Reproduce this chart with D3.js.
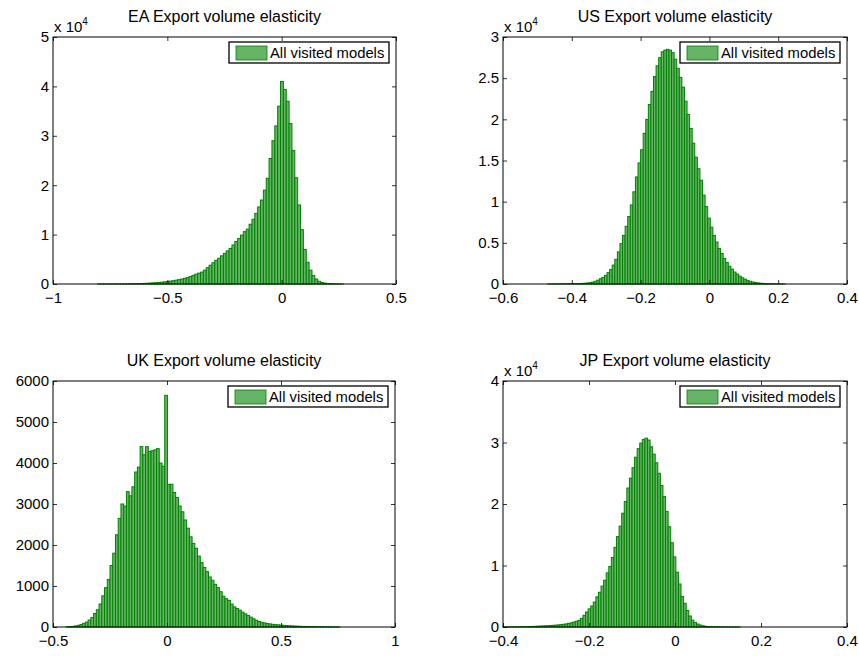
<!DOCTYPE html>
<html>
<head>
<meta charset="utf-8">
<script src="https://cdn.jsdelivr.net/npm/d3@7"></script>
<style>
  body { margin: 0; background: #fff; }
  svg { display: block; font-family: "Liberation Sans", Arial, Helvetica, sans-serif; }
</style>
</head>
<body>
<svg id="chart" width="859" height="656"></svg>
<script>
// histogram counts (one value per bin)
const eaBinStart = -0.805
const eaBinWidth = 0.0125
const eaCounts = [2, 3, 4, 5, 7, 9, 12, 15, 20, 25, 32, 40, 50, 65, 80, 100, 120, 150, 180, 220,
  260, 310, 370, 430, 500, 580, 670, 770, 880, 1000, 1150, 1300, 1500, 1750, 2000, 2200, 2400, 2800, 3300, 3800,
  4300, 4800, 5200, 5700, 6200, 6700, 7200, 7900, 8600, 9200, 9900, 10600, 11100, 12100, 13100, 14300, 15600, 17000, 19000, 21400,
  25400, 29000, 32000, 36000, 41000, 39400, 37000, 32500, 27000, 21500, 16000, 11000, 7000, 4400, 2800, 1700, 1000, 550, 300, 180,
  100, 60, 35, 20, 10, 5]

const usBinStart = -0.47
const usBinWidth = 0.0075
const usCounts = [5, 5, 8, 10, 12, 15, 18, 22, 26, 30, 36, 44, 55, 70, 90, 120, 160, 230, 330, 460,
  640, 800, 1050, 1380, 1750, 2300, 3000, 3900, 4900, 5900, 7000, 8200, 9600, 11200, 13000, 14700, 16300, 18300, 20000, 21800,
  23400, 25200, 26500, 27500, 28200, 28400, 28500, 28400, 28100, 27300, 26200, 25100, 23900, 22200, 20600, 18900, 17100, 15400, 14000, 12600,
  10800, 9400, 8000, 6900, 5900, 5100, 4300, 3700, 3100, 2600, 2150, 1800, 1450, 1200, 950, 750, 580, 440, 330, 250,
  180, 130, 95, 70, 50, 35, 25, 18, 12, 8, 5, 3]

const ukBinStart = -0.442
const ukBinWidth = 0.012
const ukCounts = [5, 10, 15, 25, 40, 60, 90, 120, 170, 230, 330, 420, 560, 760, 960, 1160, 1500, 1800, 2250, 2650,
  3000, 2950, 3300, 3200, 3420, 3780, 3900, 4400, 4200, 4400, 4280, 4300, 4320, 4350, 4000, 3920, 5650, 3480, 3480, 3280,
  3160, 2950, 2810, 2610, 2410, 2200, 2040, 1920, 1730, 1570, 1450, 1350, 1220, 1140, 1040, 960, 860, 750, 690, 650,
  560, 490, 450, 410, 360, 320, 280, 240, 200, 165, 135, 115, 100, 85, 75, 65, 58, 52, 46, 40,
  35, 30, 26, 22, 19, 16, 14, 12, 10, 9, 8, 7, 6, 5, 4, 4, 3, 3, 2, 2]

const jpBinStart = -0.4
const jpBinWidth = 0.006
const jpCounts = [10, 12, 15, 18, 22, 27, 33, 40, 50, 60, 75, 90, 110, 130, 150, 170, 190, 210, 240, 270,
  300, 340, 390, 440, 500, 580, 680, 800, 930, 1080, 1400, 1900, 2450, 2950, 3420, 4050, 4900, 5650, 6650, 7600,
  8800, 9850, 11300, 12950, 14700, 16400, 18500, 20400, 22600, 24200, 25900, 27600, 29000, 29900, 30500, 30700, 30400, 29300, 28100, 26700,
  25000, 23000, 21200, 18800, 16300, 13700, 11400, 8900, 7000, 4950, 3850, 2700, 1790, 1120, 740, 480, 320, 190, 120, 80,
  55, 40, 30, 22, 16, 12, 9, 7, 5, 4, 3, 2]

// axis ticks
const eaXTicks = [-1, -0.5, 0, 0.5]
const eaYTicks = [0, 10000, 20000, 30000, 40000, 50000]
const usXTicks = [-0.6, -0.4, -0.2, 0, 0.2, 0.4]
const usYTicks = [0, 5000, 10000, 15000, 20000, 25000, 30000]
const ukXTicks = [-0.5, 0, 0.5, 1]
const ukYTicks = [0, 1000, 2000, 3000, 4000, 5000, 6000]
const jpXTicks = [-0.4, -0.2, 0, 0.2, 0.4]
const jpYTicks = [0, 10000, 20000, 30000, 40000]

const titles = ['EA Export volume elasticity', 'US Export volume elasticity',
  'UK Export volume elasticity', 'JP Export volume elasticity']
const legendLabel = 'All visited models'

const panels = [
  {title: titles[0], start: eaBinStart, width: eaBinWidth, counts: eaCounts, xTicks: eaXTicks, yTicks: eaYTicks, exp: 4,
    left: 53, top: 37, w: 343, h: 247},
  {title: titles[1], start: usBinStart, width: usBinWidth, counts: usCounts, xTicks: usXTicks, yTicks: usYTicks, exp: 4,
    left: 503, top: 37, w: 344, h: 247},
  {title: titles[2], start: ukBinStart, width: ukBinWidth, counts: ukCounts, xTicks: ukXTicks, yTicks: ukYTicks, exp: 0,
    left: 53, top: 381, w: 342, h: 246},
  {title: titles[3], start: jpBinStart, width: jpBinWidth, counts: jpCounts, xTicks: jpXTicks, yTicks: jpYTicks, exp: 4,
    left: 503, top: 381, w: 344, h: 246}
]

const barFill = '#66b566'
const barEdge = '#008000'
const tickFont = 15
const titleFont = 16
const legendFont = 14.8

const svg = d3.select('#chart')

// matlab style minus sign
const fmtNum = v => {
  const s = String(Math.round(v * 1e6) / 1e6)
  return s.replace('-', '\u2212')
}

function drawPanel(p) {
  const g = svg.append('g').attr('transform', `translate(${p.left}, ${p.top})`)

  const x = d3.scaleLinear()
    .domain(d3.extent(p.xTicks))
    .range([0, p.w])
  const y = d3.scaleLinear()
    .domain(d3.extent(p.yTicks))
    .range([p.h, 0])

  const scale = Math.pow(10, p.exp)

  // bars
  g.append('g')
    .selectAll('rect')
    .data(p.counts)
    .join('rect')
    .attr('x', (d, i) => x(p.start + i * p.width))
    .attr('y', d => y(d))
    .attr('width', x(p.start + p.width) - x(p.start))
    .attr('height', d => y(0) - y(d))
    .attr('fill', barFill)
    .attr('stroke', barEdge)
    .attr('stroke-width', 1)

  // axes with inward ticks on all four sides
  const bottom = g.append('g')
    .attr('transform', `translate(0, ${p.h})`)
    .call(d3.axisBottom(x).tickValues(p.xTicks).tickSizeInner(-4).tickSizeOuter(0).tickPadding(8)
      .tickFormat(fmtNum))
  const top = g.append('g')
    .call(d3.axisTop(x).tickValues(p.xTicks).tickSizeInner(-4).tickSizeOuter(0).tickFormat(''))
  const left = g.append('g')
    .call(d3.axisLeft(y).tickValues(p.yTicks).tickSizeInner(-4).tickSizeOuter(0).tickPadding(4)
      .tickFormat(d => fmtNum(d / scale)))
  const right = g.append('g')
    .attr('transform', `translate(${p.w}, 0)`)
    .call(d3.axisRight(y).tickValues(p.yTicks).tickSizeInner(-4).tickSizeOuter(0).tickFormat(''))

  ;[bottom, top, left, right].forEach(a => {
    a.select('.domain').remove()
    a.selectAll('line').attr('stroke', '#000').attr('stroke-width', 0.8)
    a.selectAll('text')
      .attr('fill', '#000')
      .attr('font-size', tickFont)
      .attr('font-family', '"Liberation Sans", Arial, sans-serif')
  })

  // axes box
  g.append('rect')
    .attr('width', p.w)
    .attr('height', p.h)
    .attr('fill', 'none')
    .attr('stroke', '#000')
    .attr('stroke-width', 1)

  // exponent label
  if (p.exp) {
    const t = g.append('text')
      .attr('x', 1)
      .attr('y', -5)
      .attr('font-size', tickFont)
      .text('x 10')
    t.append('tspan')
      .attr('dy', -7)
      .attr('font-size', 10)
      .text(p.exp)
  }

  // title
  g.append('text')
    .attr('x', p.w / 2)
    .attr('y', -15)
    .attr('text-anchor', 'middle')
    .attr('font-size', titleFont)
    .text(p.title)

  // legend
  const lg = g.append('g').attr('transform', `translate(${p.w - 167}, 5)`)
  lg.append('rect')
    .attr('width', 160)
    .attr('height', 21)
    .attr('fill', '#fff')
    .attr('stroke', '#000')
    .attr('stroke-width', 1.3)
  lg.append('rect')
    .attr('x', 7)
    .attr('y', 4)
    .attr('width', 31)
    .attr('height', 14)
    .attr('fill', barFill)
    .attr('stroke', barEdge)
    .attr('stroke-width', 0.8)
  lg.append('text')
    .attr('x', 41)
    .attr('y', 15.5)
    .attr('font-size', legendFont)
    .text(legendLabel)
}

panels.forEach(drawPanel)
</script>
</body>
</html>
